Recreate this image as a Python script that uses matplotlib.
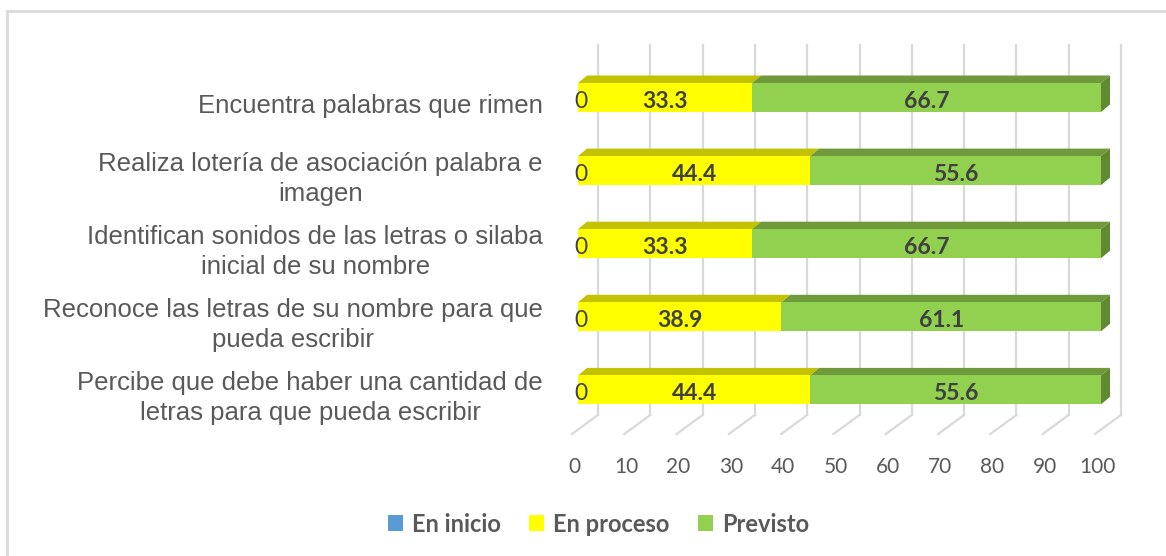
import matplotlib
matplotlib.use("Agg")
import matplotlib.pyplot as plt
from matplotlib.patches import Polygon, Patch, Rectangle
import numpy as np

categories = [
    "Encuentra palabras que rimen",
    "Realiza lotería de asociación palabra e\nimagen",
    "Identifican sonidos de las letras o silaba\ninicial de su nombre",
    "Reconoce las letras de su nombre para que\npueda escribir",
    "Percibe que debe haber una cantidad de\nletras para que pueda escribir",
]
en_inicio = [0, 0, 0, 0, 0]
en_proceso = [33.3, 44.4, 33.3, 38.9, 44.4]
previsto = [66.7, 55.6, 66.7, 61.1, 55.6]
series_names = ["En inicio", "En proceso", "Previsto"]
xticks = [0, 10, 20, 30, 40, 50, 60, 70, 80, 90, 100]

# colors
c_blue = "#5B9BD5"
c_yel, c_yel_top = "#FFFF00", "#C2C200"
c_grn, c_grn_top, c_grn_side = "#92D050", "#6F9A3C", "#5F8A32"
grid_c = "#D9D9D9"
txt_c = "#595959"
lab_c = "#404040"

W, H = 1166, 556
fig = plt.figure(figsize=(W / 100, H / 100), dpi=100)

PX = 5.23      # px per x unit
PY = 73.1      # px per category
X0 = 578.0     # px of value 0 (front)
Y0 = 97.5      # px of first bar center
xmin, xmax = -5, 106
ytop_px, ybot_px = 40, 445
ax = fig.add_axes([(X0 + xmin * PX) / W, 1 - ybot_px / H,
                   (xmax - xmin) * PX / W, (ybot_px - ytop_px) / H])
ax.set_xlim(xmin, xmax)
ax.set_ylim((ybot_px - Y0) / PY, (ytop_px - Y0) / PY)
ax.axis("off")

def ydat(px):
    return (px - Y0) / PY

# chart border (light gray)
fig.patches.append(Rectangle((7 / W, -0.1), 1.2, 1 - 10.5 / H + 0.1,
                             transform=fig.transFigure, fill=False,
                             edgecolor=grid_c, lw=2, zorder=0))

# back wall gridlines and floor
back_dx = 20 / PX
front_dx = -6 / PX
for v in xticks:
    ax.plot([v + back_dx, v + back_dx], [ydat(45), ydat(415)],
            color=grid_c, lw=1.6, clip_on=False, zorder=1)
    ax.plot([v + back_dx, v + front_dx], [ydat(415), ydat(434)],
            color=grid_c, lw=1.6, clip_on=False, zorder=1)
    ax.text(v - 4 / PX, ydat(467), str(v), ha="center", va="center",
            fontsize=15, color=txt_c, family="Lato", clip_on=False)

# bars
y = np.arange(len(categories))
h = 29 / PY
ddx = 9 / PX
ddy = 7.5 / PY

def top_face(left, width, yc, color):
    yt = yc - h / 2
    poly = Polygon([(left, yt), (left + width, yt),
                    (left + width + ddx, yt - ddy), (left + ddx, yt - ddy)],
                   closed=True, facecolor=color, edgecolor="none", zorder=3)
    ax.add_patch(poly)

left_y = np.array(en_inicio)
left_g = left_y + np.array(en_proceso)
ax.barh(y, en_inicio, height=h, color=c_blue, zorder=4)
ax.barh(y, en_proceso, left=left_y, height=h, color=c_yel, zorder=4)
ax.barh(y, previsto, left=left_g, height=h, color=c_grn, zorder=4)
for i in range(len(categories)):
    top_face(left_y[i], en_proceso[i], y[i], c_yel_top)
    top_face(left_g[i], previsto[i], y[i], c_grn_top)
    xr = left_g[i] + previsto[i]
    side = Polygon([(xr, y[i] - h / 2), (xr, y[i] + h / 2),
                    (xr + ddx, y[i] + h / 2 - ddy), (xr + ddx, y[i] - h / 2 - ddy)],
                   closed=True, facecolor=c_grn_side, edgecolor="none", zorder=3)
    ax.add_patch(side)
    # data labels
    lo = 4 / PY
    ax.text(en_inicio[i] + 3 / PX, y[i] + lo, f"{en_inicio[i]:g}", ha="center",
            va="center", fontsize=16.5, color=lab_c, family="Lato", zorder=6)
    ax.text(left_y[i] + en_proceso[i] / 2, y[i] + lo, f"{en_proceso[i]:.1f}",
            ha="center", va="center", fontsize=16.5, color=lab_c,
            family="Lato", fontweight="bold", zorder=6)
    ax.text(left_g[i] + previsto[i] / 2, y[i] + lo, f"{previsto[i]:.1f}",
            ha="center", va="center", fontsize=16.5, color=lab_c,
            family="Lato", fontweight="bold", zorder=6)
    # category labels
    ax.text((543 - X0) / PX, y[i] + 8.5 / PY, categories[i], ha="right",
            va="center", multialignment="center", fontsize=18.5,
            color=txt_c, family="Liberation Sans", linespacing=1.32,
            clip_on=False)

# legend
handles = [Patch(facecolor=c, edgecolor="none") for c in (c_blue, c_yel, c_grn)]
leg = fig.legend(handles, series_names, loc="center", ncol=3,
                 bbox_to_anchor=(598.5 / W, 1 - 524 / H), frameon=False,
                 prop={"family": "Lato", "weight": "bold", "size": 17},
                 handlelength=0.64, handleheight=0.64, handletextpad=0.38,
                 columnspacing=1.2, labelcolor=txt_c)

fig.savefig("out.png", dpi=100, facecolor="white")
